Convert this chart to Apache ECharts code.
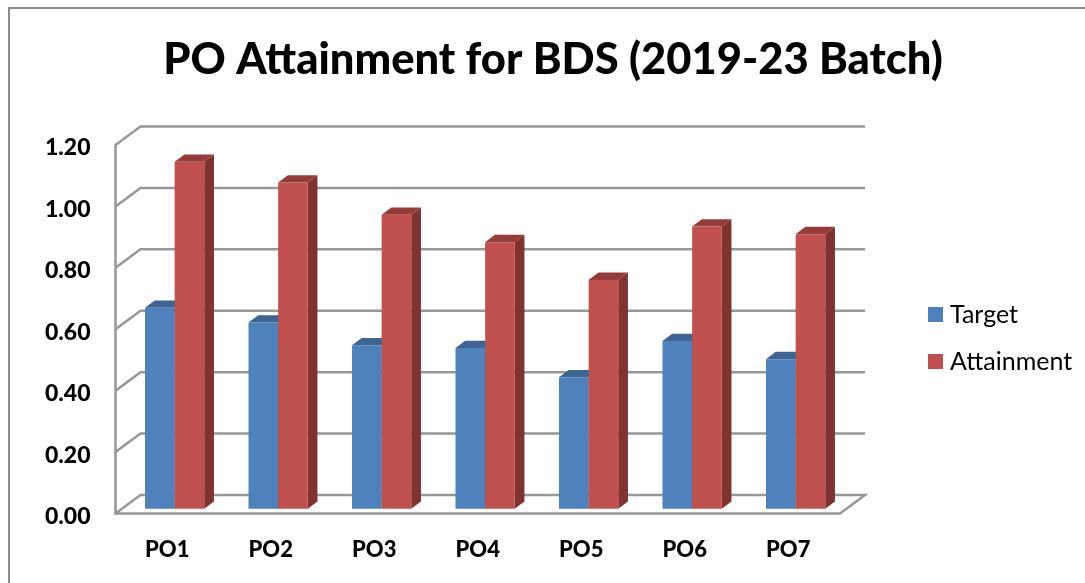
<!DOCTYPE html>
<html>
<head>
<meta charset="utf-8">
<style>
  html, body { margin: 0; padding: 0; background: #fff; }
  #chart { width: 1085px; height: 583px; }
</style>
<script src="https://cdn.jsdelivr.net/npm/echarts@6/dist/echarts.min.js"></script>
</head>
<body>
<div id="chart"></div>
<script>
const categories = ['PO1', 'PO2', 'PO3', 'PO4', 'PO5', 'PO6', 'PO7']
const target = [0.654, 0.606, 0.532, 0.523, 0.428, 0.546, 0.487]
const attainment = [1.13, 1.062, 0.957, 0.868, 0.745, 0.919, 0.894]
const yTicks = [0, 0.2, 0.4, 0.6, 0.8, 1.0, 1.2]

const FONT = 'Lato, "Open Sans", sans-serif'
const GRID_LINE = '#979797'
// fake 3D: how far the back wall and the bar depth are shifted from the front plane
const WALL_DX = 25
const WALL_DY = 18.5
const BAR_DX = 9.7
const BAR_DY = 7.3
const FLOOR_DY = 4.8

const wallItem = (params, api) => {
  const c = params.coordSys
  const y = api.coord([0, api.value(1)])[1]
  const pts = [[c.x, y], [c.x + WALL_DX, y - WALL_DY], [c.x + c.width + WALL_DX, y - WALL_DY]]
  if (api.value(1) === 0) pts.push([c.x + c.width, y])
  return {
    type: 'polyline',
    shape: { points: pts },
    style: { stroke: GRID_LINE, lineWidth: 2.5, fill: null }
  }
}

const barItem = (shift, sideColor, topColor) => (params, api) => {
  const top = api.coord([api.value(0), api.value(1)])
  const base = api.coord([api.value(0), 0])
  const bw = api.size([1, 0])[0] * 0.286
  const x0 = top[0] + shift
  const x1 = x0 + bw
  const y0 = top[1] - FLOOR_DY
  const y1 = base[1] - FLOOR_DY
  return {
    type: 'group',
    children: [
      {
        type: 'polygon',
        shape: { points: [[x1, y0], [x1 + BAR_DX, y0 - BAR_DY], [x1 + BAR_DX, y1 - BAR_DY], [x1, y1]] },
        style: { fill: sideColor }
      },
      {
        type: 'polygon',
        shape: { points: [[x0, y0], [x0 + BAR_DX, y0 - BAR_DY], [x1 + BAR_DX, y0 - BAR_DY], [x1, y0]] },
        style: { fill: topColor }
      },
      {
        type: 'rect',
        shape: { x: x0, y: y0, width: bw, height: y1 - y0 },
        style: { fill: api.visual('color') }
      }
    ]
  }
}

const chart = echarts.init(document.getElementById('chart'))
chart.setOption({
  animation: false,
  backgroundColor: '#fff',
  title: {
    text: 'PO Attainment for BDS (2019-23 Batch)',
    left: 548,
    top: 33,
    textAlign: 'center',
    textStyle: { fontFamily: FONT, fontWeight: 900, fontSize: 43.5, color: '#000' }
  },
  legend: {
    data: ['Target', 'Attainment'],
    orient: 'vertical',
    left: 928,
    top: 302,
    padding: 0,
    icon: 'rect',
    itemWidth: 15,
    itemHeight: 15,
    itemGap: 22,
    textStyle: { fontFamily: FONT, fontSize: 25, color: '#000', padding: [0, 0, 0, 2] }
  },
  grid: { left: 115.5, top: 145, width: 724.5, height: 368.5 },
  xAxis: {
    type: 'category',
    data: categories,
    axisTick: { show: false },
    axisLine: { lineStyle: { color: GRID_LINE, width: 2.5 } },
    axisLabel: { margin: 25, fontFamily: FONT, fontWeight: 900, fontSize: 22, color: '#000' }
  },
  yAxis: {
    type: 'value',
    min: 0,
    max: 1.2,
    interval: 0.2,
    axisTick: { show: false },
    axisLine: { show: true, lineStyle: { color: GRID_LINE, width: 2.5 } },
    splitLine: { show: false },
    axisLabel: {
      margin: 25,
      fontFamily: FONT,
      fontWeight: 900,
      fontSize: 23,
      color: '#000',
      verticalAlign: 'top',
      lineHeight: 6,
      formatter: (v) => v.toFixed(2)
    }
  },
  graphic: [
    {
      type: 'polyline',
      silent: true,
      shape: { points: [[9, 583], [9, 8], [1085, 8]] },
      style: { stroke: '#8c8c8c', lineWidth: 2, fill: null }
    }
  ],
  series: [
    {
      type: 'custom',
      name: 'wall',
      z: 1,
      renderItem: wallItem,
      encode: { x: 0, y: 1 },
      data: yTicks.map((t) => [0, t])
    },
    {
      type: 'custom',
      name: 'Target',
      z: 2,
      itemStyle: { color: '#4f81bd' },
      renderItem: barItem(-22.25, '#2f4f75', '#3e6592'),
      encode: { x: 0, y: 1 },
      data: target.map((v, i) => [i, v])
    },
    {
      type: 'custom',
      name: 'Attainment',
      z: 3,
      itemStyle: { color: '#c0504d' },
      renderItem: barItem(7.4, '#7f3230', '#953b39'),
      encode: { x: 0, y: 1 },
      data: attainment.map((v, i) => [i, v])
    }
  ]
})
</script>
</body>
</html>
